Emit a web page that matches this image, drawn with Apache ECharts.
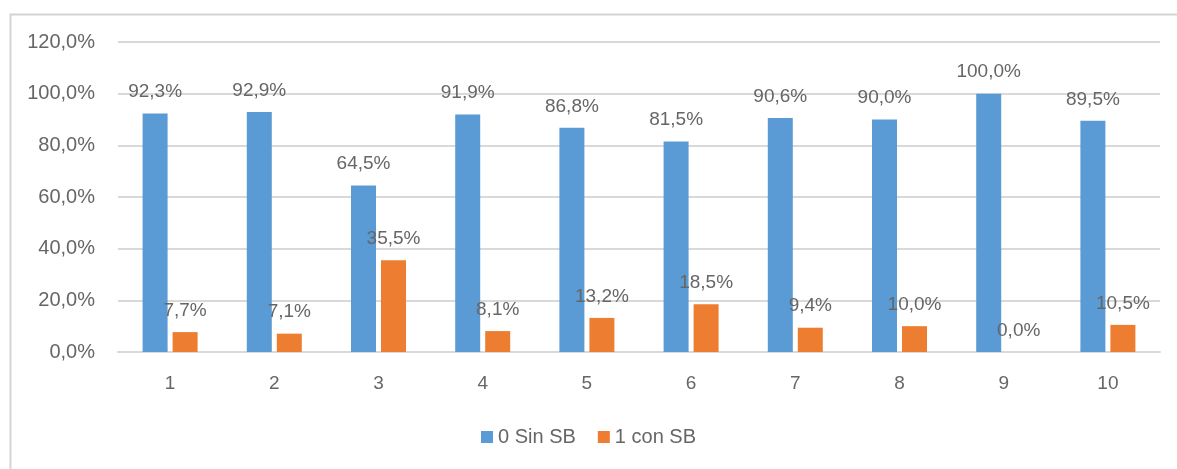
<!DOCTYPE html>
<html>
<head>
<meta charset="utf-8">
<script src="https://cdn.jsdelivr.net/npm/echarts@6/dist/echarts.min.js"></script>
<style>
html,body{margin:0;padding:0;background:#fff;}
#c{width:1177px;height:469px;}
</style>
</head>
<body>
<div id="c"></div>
<script>
const categories = ['1','2','3','4','5','6','7','8','9','10'];
const sinSB = [92.3, 92.9, 64.5, 91.9, 86.8, 81.5, 90.6, 90.0, 100.0, 89.5];
const conSB = [7.7, 7.1, 35.5, 8.1, 13.2, 18.5, 9.4, 10.0, 0.0, 10.5];
const seriesNames = ['0 Sin SB', '1 con SB'];
const yTicks = [0, 20, 40, 60, 80, 100, 120];

const fmt = v => v.toFixed(1).replace('.', ',') + '%';
const FONT = '"Liberation Sans", Arial, sans-serif';
const TXT = '#666666';
const chart = echarts.init(document.getElementById('c'));
const labelCfg = {
  show: true, position: 'top', distance: 12,
  color: TXT, fontSize: 19, fontFamily: FONT,
  formatter: p => fmt(p.value)
};
chart.setOption({
  animation: false,
  graphic: [{
    type: 'rect', left: 8, top: 12,
    shape: {width: 1200, height: 500},
    style: {fill: 'none', stroke: '#d4d4d4', lineWidth: 2}, z: -1
  }],
  grid: {left: 118, right: 17, top: 42, bottom: 117},
  legend: {
    data: seriesNames, bottom: 17, left: 'center',
    itemWidth: 12, itemHeight: 12, itemGap: 22,
    icon: 'rect',
    textStyle: {color: TXT, fontSize: 20, fontFamily: FONT}
  },
  xAxis: {
    type: 'category', data: categories,
    axisLine: {lineStyle: {color: '#d9d9d9', width: 2}},
    axisTick: {show: false},
    axisLabel: {color: TXT, fontSize: 19, fontFamily: FONT, margin: 22}
  },
  yAxis: {
    type: 'value', min: yTicks[0], max: yTicks[yTicks.length - 1], interval: 20,
    axisLine: {show: false}, axisTick: {show: false},
    splitLine: {lineStyle: {color: '#d9d9d9', width: 2}},
    axisLabel: {color: TXT, fontSize: 20, fontFamily: FONT, margin: 23,
      formatter: v => fmt(v)}
  },
  series: [
    {name: seriesNames[0], type: 'bar', data: sinSB, barWidth: 25, barGap: '20%',
      itemStyle: {color: '#5B9BD5'}, label: labelCfg},
    {name: seriesNames[1], type: 'bar', data: conSB, barWidth: 25,
      itemStyle: {color: '#ED7D31'}, label: labelCfg}
  ]
});
</script>
</body>
</html>
